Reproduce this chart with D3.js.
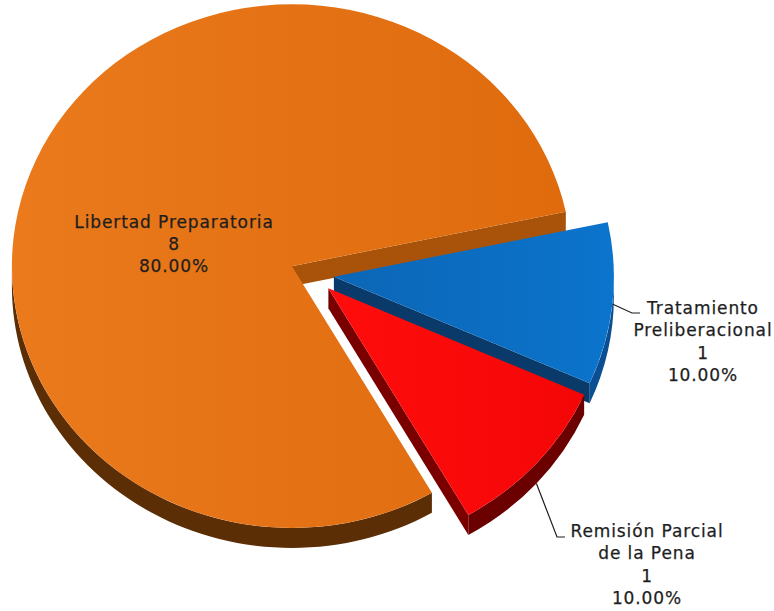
<!DOCTYPE html>
<html>
<head>
<meta charset="utf-8">
<script src="https://cdn.jsdelivr.net/npm/d3@7"></script>
<style>
  body { margin: 0; background: #fff; }
  text { font-family: "DejaVu Sans", sans-serif; font-size: 17px; letter-spacing: 0.9px; fill: #1e1e1e; stroke: #1e1e1e; stroke-width: 0.25px; }
</style>
</head>
<body>
<script>
const width = 774
const height = 611

// data
const categories = ['Libertad Preparatoria', 'Tratamiento Preliberacional', 'Remisión Parcial de la Pena']
const counts = [8, 1, 1]
const percents = ['80.00%', '10.00%', '10.00%']
const labelLines = [['Libertad Preparatoria'], ['Tratamiento', 'Preliberacional'], ['Remisión Parcial', 'de la Pena']]

// look
const topColors = [['#ea7a1c', '#df6b0d'], ['#0c66b6', '#0b74cc'], ['#ff0d0d', '#f50606']]
const sideColors = ['#a9520a', '#0a3a6a', '#7a0000']
const wallColors = ['#5c2e06', '#0a4f93', '#6a0000']

const cx = 312, cy = 274.5
const radius = 280
const tilt = 0.935
const depth = 20 / tilt
const explode = 22
const deg = Math.PI / 180

const svg = d3.select('body')
        .append('svg')
        .attr('width', width)
        .attr('height', height)

const defs = svg.append('defs')
topColors.forEach((c, i) => {
    const g = defs.append('linearGradient')
        .attr('id', 'top' + i)
        .attr('x1', 0).attr('x2', 1).attr('y1', 0).attr('y2', 0)
    g.append('stop').attr('offset', 0).attr('stop-color', c[0])
    g.append('stop').attr('offset', 1).attr('stop-color', c[1])
})

const pie = d3.pie()
        .sort(null)
        .startAngle(150 * deg)
        .endAngle(510 * deg)

const slices = pie(counts)

const arc = d3.arc()
        .innerRadius(0)
        .outerRadius(radius)

// point on rim for a d3 angle (circle coords, before tilt)
const rim = (a, r = radius) => [r * Math.sin(a), -r * Math.cos(a)]

// side facing the viewer (radial cut)
const radialFace = (a) => {
    const p = rim(a)
    return `M0,0L${p[0]},${p[1]}L${p[0]},${p[1] + depth}L0,${depth}Z`
}

// outer wall between two angles
const outerWall = (b0, b1) => {
    const path = d3.path()
    const p0 = rim(b0), p1 = rim(b1)
    path.moveTo(p0[0], p0[1])
    path.arc(0, 0, radius, b0 - Math.PI / 2, b1 - Math.PI / 2)
    path.lineTo(p1[0], p1[1] + depth)
    path.arc(0, depth, radius, b1 - Math.PI / 2, b0 - Math.PI / 2, true)
    path.closePath()
    return path.toString()
}

// visible (front) part of a slice's outer wall
const frontRange = (a0, a1) => {
    for (let n = 0; n < 3; n++) {
        const lo = Math.max(a0, (90 + 360 * n) * deg)
        const hi = Math.min(a1, (270 + 360 * n) * deg)
        if (hi > lo) return [lo, hi]
    }
    return null
}

const midAngle = (d) => (d.startAngle + d.endAngle) / 2
const shift = (d) => rim(midAngle(d), explode)

const pieG = svg.append('g')
        .attr('transform', `translate(${cx},${cy}) scale(1,${tilt})`)

const sliceG = pieG.selectAll('.slice')
        .data(slices)
        .join('g')
        .attr('class', 'slice')
        .attr('transform', d => `translate(${shift(d)[0]},${shift(d)[1]})`)

sliceG.each(function (d, i) {
    const g = d3.select(this)
    const fr = frontRange(d.startAngle, d.endAngle)
    if (fr) {
        g.append('path')
            .attr('d', outerWall(fr[0], fr[1]))
            .attr('fill', wallColors[i])
    }
    if (Math.sin(d.startAngle) < 0) {
        g.append('path').attr('d', radialFace(d.startAngle)).attr('fill', sideColors[i])
    }
    if (Math.sin(d.endAngle) > 0) {
        g.append('path').attr('d', radialFace(d.endAngle)).attr('fill', sideColors[i])
    }
    g.append('path')
        .attr('d', arc(d))
        .attr('fill', `url(#top${i})`)
})

// screen position of a circle-coords point of slice d
const toScreen = (d, p) => {
    const s = shift(d)
    return [cx + s[0] + p[0], cy + (s[1] + p[1]) * tilt]
}

// labels
const labelLayout = [
    { x: 174, y: 227.5, leader: null },
    { x: 703, y: 314, leader: { lift: 0, elbow: [632, 313], end: [640, 313] } },
    { x: 647, y: 537, leader: { lift: depth, elbow: [557, 537], end: [565, 537] } }
]
const lineHeight = 22.3

slices.forEach((d, i) => {
    const L = labelLayout[i]
    const lines = labelLines[i].concat([String(counts[i]), percents[i]])
    const t = svg.append('text')
        .attr('text-anchor', 'middle')
    lines.forEach((s, j) => {
        t.append('tspan')
            .attr('x', L.x)
            .attr('y', L.y + j * lineHeight)
            .text(s)
    })
    if (L.leader) {
        const p = rim(midAngle(d))
        const start = toScreen(d, [p[0], p[1] + L.leader.lift])
        svg.append('polyline')
            .attr('points', [start, L.leader.elbow, L.leader.end].map(q => q.join(',')).join(' '))
            .attr('fill', 'none')
            .attr('stroke', '#1e1e1e')
            .attr('stroke-width', 1.2)
    }
})
</script>
</body>
</html>
